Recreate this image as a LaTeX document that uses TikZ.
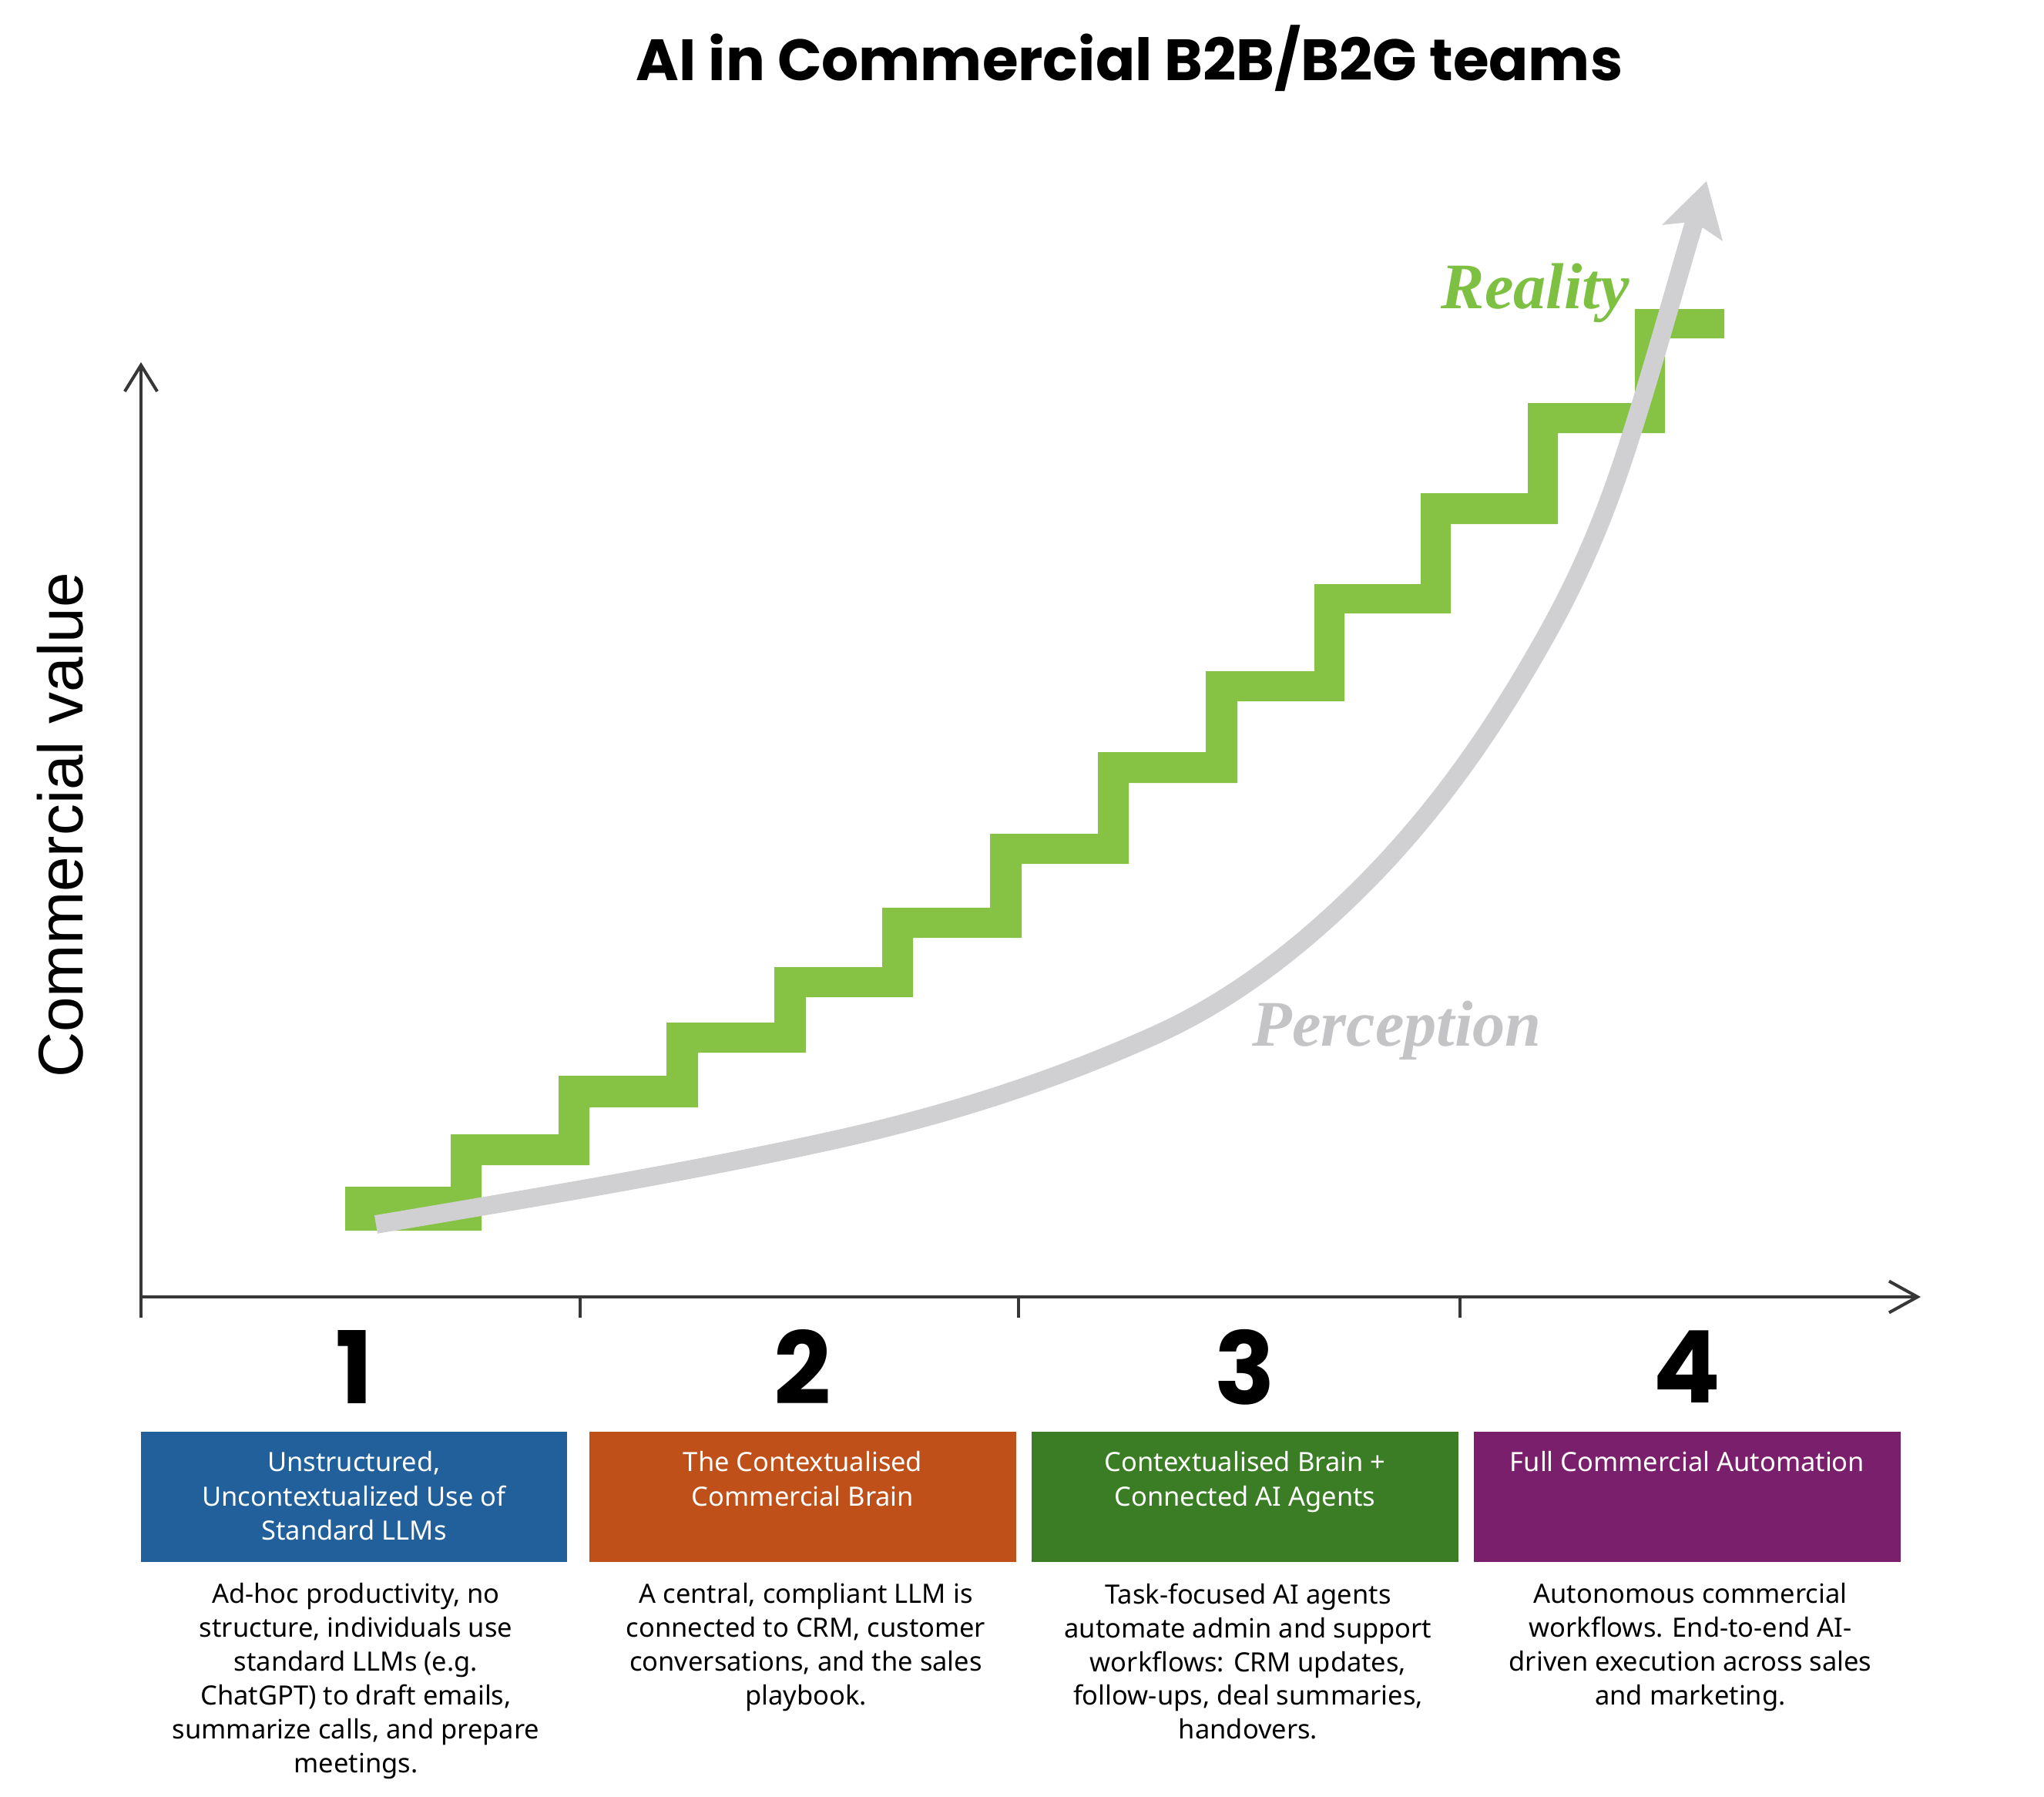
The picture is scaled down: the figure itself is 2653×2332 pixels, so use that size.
\documentclass[tikz,border=0pt]{standalone}
\usepackage{fontspec}
\setmainfont{Noto Sans}
\newfontfamily\titlefont{Poppins}
\newfontfamily\labelserif{Liberation Serif}
\newfontfamily\axisfont{Liberation Sans}
\usetikzlibrary{arrows.meta}
\definecolor{stairgreen}{RGB}{134,195,68}
\definecolor{realgreen}{RGB}{125,192,66}
\definecolor{percgray}{RGB}{208,208,210}
\definecolor{perctext}{RGB}{196,196,198}
\definecolor{axisgray}{RGB}{55,55,55}
\definecolor{cblue}{RGB}{33,96,155}
\definecolor{corange}{RGB}{192,80,26}
\definecolor{cgreen}{RGB}{59,125,37}
\definecolor{cpurple}{RGB}{122,31,107}
\begin{document}
\begin{tikzpicture}[x=0.01cm,y=-0.01cm,
  axisline/.style={draw=axisgray,line width=1.15pt},
  ticks/.style={draw=axisgray,line width=1.15pt},
  stagebox/.style={rectangle,inner sep=0pt,minimum width=5.53cm,minimum height=1.69cm},
  boxtext/.style={anchor=north,inner sep=0pt,align=center,text=white,font=\fontsize{9.8}{12.6}\selectfont},
  desctext/.style={anchor=north,inner sep=0pt,align=center,text=black,font=\fontsize{9.8}{12.5}\selectfont},
  stagenum/.style={inner sep=0pt,font=\titlefont\bfseries\fontsize{37}{40}\selectfont},
  perc/.style={draw=percgray,line width=6.8pt}]
\useasboundingbox (0,0) rectangle (2653,2332);

% title
\node[inner sep=0pt,font=\titlefont\bfseries\fontsize{21.5}{26}\selectfont] (title) at (1466,76) {AI in Commercial B2B/B2G teams};

% axes
\coordinate (ybot) at (183,1710);
\coordinate (ytop) at (183,470);
\coordinate (xl) at (183,1683);
\coordinate (xr) at (2493,1683);
\draw[axisline,-{Straight Barb[length=9.7pt,width=12pt,line width=1.15pt]}] (ybot) -- (ytop);
\draw[axisline,-{Straight Barb[length=10.5pt,width=11.6pt,line width=1.15pt]}] (xl) -- (xr);
\coordinate (t2a) at (753,1683); \coordinate (t2b) at (753,1710);
\coordinate (t3a) at (1322,1683); \coordinate (t3b) at (1322,1710);
\coordinate (t4a) at (1895,1683); \coordinate (t4b) at (1895,1710);
\draw[ticks] (t2a) -- (t2b);
\draw[ticks] (t3a) -- (t3b);
\draw[ticks] (t4a) -- (t4b);

% y label
\node[rotate=90,anchor=base,inner sep=0pt,font=\axisfont\fontsize{23.3}{28}\selectfont] (ylabel) at (107,1071) {Commercial value};

% staircase (reality)
\fill[stairgreen] (448,1540) -- (585,1540) -- (585,1472) -- (725,1472) -- (725,1396) -- (865,1396) -- (865,1327)
  -- (1005,1327) -- (1005,1255) -- (1145,1255) -- (1145,1178) -- (1285,1178) -- (1285,1082)
  -- (1425,1082) -- (1425,976) -- (1565,976) -- (1565,871) -- (1706,871) -- (1706,758)
  -- (1844,758) -- (1844,640) -- (1983,640) -- (1983,523) -- (2122,523) -- (2122,401)
  -- (2238,401) -- (2238,439) -- (2161,439) -- (2161,562) -- (2022,562) -- (2022,680)
  -- (1883,680) -- (1883,796) -- (1745,796) -- (1745,910) -- (1606,910) -- (1606,1016)
  -- (1465,1016) -- (1465,1121) -- (1326,1121) -- (1326,1217) -- (1185,1217) -- (1185,1294)
  -- (1046,1294) -- (1046,1366) -- (906,1366) -- (906,1437) -- (765,1437) -- (765,1512)
  -- (625,1512) -- (625,1597) -- (448,1597) -- cycle;

% perception curve
\coordinate (k0) at (488,1589);
\coordinate (k1) at (1080,1480);
\coordinate (k2) at (1500,1343);
\coordinate (k3) at (1768,1150);
\coordinate (k4) at (1982,868);
\coordinate (k5) at (2106,599);
\coordinate (k6) at (2198,292);
\draw[perc] (k0) .. controls (685.3,1555.5) and (882.7,1523.4) .. (k1)
  .. controls (1220,1449.2) and (1360,1406) .. (k2)
  .. controls (1589.3,1302.8) and (1678.7,1239.3) .. (k3)
  .. controls (1839.3,1078.7) and (1910.7,989.2) .. (k4)
  .. controls (2023.3,797.8) and (2064.7,722) .. (k5)
  .. controls (2136.7,506.9) and (2167.3,396.4) .. (k6);
\fill[percgray] (2215,235) -- (2157,292) -- (2185,289) -- (2211,296) -- (2236,313) -- cycle;

\node[anchor=base west,inner sep=0pt,text=realgreen,font=\labelserif\bfseries\itshape\fontsize{24}{28}\selectfont] (reality) at (1870,400) {Reality};
\node[anchor=base west,inner sep=0pt,text=perctext,font=\labelserif\bfseries\itshape\fontsize{24}{28}\selectfont] (perception) at (1625,1357) {Perception};

% stage numbers
\node[stagenum] (n1) at (460,1774) {1};
\node[stagenum] (n2) at (1042,1774) {2};
\node[stagenum] (n3) at (1616,1774) {3};
\node[stagenum] (n4) at (2190,1774) {4};

% stage boxes
\node[stagebox,fill=cblue] (b1) at (459.5,1942.5) {};
\node[stagebox,fill=corange] (b2) at (1042,1942.5) {};
\node[stagebox,fill=cgreen] (b3) at (1616,1942.5) {};
\node[stagebox,fill=cpurple] (b4) at (2190,1942.5) {};

\node[boxtext] (bt1) at (459.5,1883) {Unstructured,\\Uncontextualized Use of\\Standard LLMs};
\node[boxtext] (bt2) at (1042,1883) {The Contextualised\\Commercial Brain};
\node[boxtext] (bt3) at (1616,1883) {Contextualised Brain +\\Connected AI Agents};
\node[boxtext] (bt4) at (2190,1883) {Full Commercial Automation};

\node[desctext] (d1) at (462,2054) {Ad-hoc productivity, no\\structure, individuals use\\standard LLMs (e.g.\\ChatGPT) to draft emails,\\summarize calls, and prepare\\meetings.};
\node[desctext] (d2) at (1046,2054) {A central, compliant LLM is\\connected to CRM, customer\\conversations, and the sales\\playbook.};
\node[desctext] (d3) at (1620,2054) {Task-focused AI agents\\automate admin and support\\workflows: CRM updates,\\follow-ups, deal summaries,\\handovers.};
\node[desctext] (d4) at (2194,2054) {Autonomous commercial\\workflows. End-to-end AI-\\driven execution across sales\\and marketing.};
\end{tikzpicture}
\end{document}
